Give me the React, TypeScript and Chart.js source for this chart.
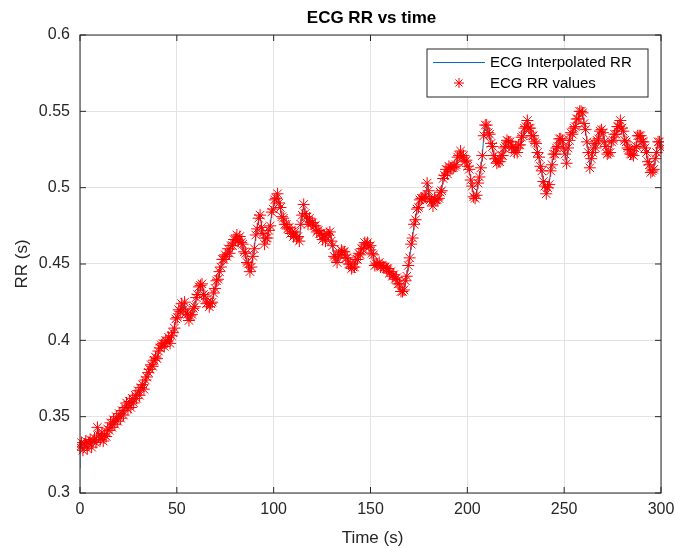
import React, { useEffect, useRef } from "react";
import { Chart, registerables } from "chart.js";

Chart.register(...registerables);

const TITLE = "ECG RR vs time";
const X_LABEL = "Time (s)";
const Y_LABEL = "RR (s)";
const LEGEND_LABELS = ["ECG Interpolated RR", "ECG RR values"];

const X_TICKS = [0, 50, 100, 150, 200, 250, 300];
const Y_TICKS = [0.3, 0.35, 0.4, 0.45, 0.5, 0.55, 0.6];

// interpolated curve starts a little below the first beat
const LINE_START_T = 0;
const LINE_START_V = 0.316;

// RR samples, one every TIME_STEP seconds from t = 0 to t = 300
const TIME_STEP = 0.75;
const RR_VALUES = [
  0.330, 0.333, 0.328, 0.332, 0.334, 0.329, 0.333, 0.335, 0.330, 0.334,
  0.336, 0.333, 0.343, 0.338, 0.335, 0.339, 0.334, 0.338, 0.337, 0.342,
  0.341, 0.346, 0.343, 0.348, 0.345, 0.350, 0.347, 0.352, 0.349, 0.354,
  0.351, 0.356, 0.359, 0.355, 0.360, 0.356, 0.362, 0.359, 0.364, 0.362,
  0.367, 0.364, 0.369, 0.371, 0.368, 0.374, 0.376, 0.379, 0.381, 0.384,
  0.383, 0.387, 0.389, 0.388, 0.393, 0.395, 0.397, 0.398, 0.396, 0.400,
  0.399, 0.402, 0.398, 0.403, 0.405, 0.408, 0.414, 0.415, 0.420, 0.419,
  0.424, 0.420, 0.425, 0.418, 0.417, 0.413, 0.416, 0.417, 0.421, 0.422,
  0.428, 0.430, 0.435, 0.436, 0.437, 0.430, 0.429, 0.424, 0.425, 0.422,
  0.424, 0.425, 0.431, 0.434, 0.439, 0.440, 0.445, 0.448, 0.453, 0.453,
  0.456, 0.455, 0.460, 0.457, 0.462, 0.462, 0.466, 0.466, 0.469, 0.465,
  0.468, 0.464, 0.463, 0.458, 0.457, 0.451, 0.450, 0.445, 0.448, 0.455,
  0.460, 0.469, 0.473, 0.480, 0.482, 0.474, 0.470, 0.463, 0.467, 0.467,
  0.472, 0.475, 0.484, 0.486, 0.492, 0.493, 0.496, 0.490, 0.487, 0.481,
  0.480, 0.476, 0.476, 0.473, 0.474, 0.470, 0.471, 0.468, 0.471, 0.467,
  0.468, 0.465, 0.476, 0.482, 0.489, 0.483, 0.481, 0.476, 0.480, 0.477,
  0.477, 0.475, 0.475, 0.471, 0.472, 0.470, 0.470, 0.466, 0.469, 0.465,
  0.470, 0.469, 0.471, 0.465, 0.462, 0.455, 0.454, 0.451, 0.456, 0.456,
  0.459, 0.458, 0.458, 0.454, 0.454, 0.450, 0.450, 0.447, 0.448, 0.448,
  0.453, 0.453, 0.457, 0.456, 0.460, 0.460, 0.464, 0.463, 0.464, 0.461,
  0.462, 0.457, 0.456, 0.449, 0.450, 0.450, 0.451, 0.448, 0.449, 0.448,
  0.448, 0.447, 0.447, 0.444, 0.445, 0.442, 0.443, 0.440, 0.441, 0.437,
  0.437, 0.432, 0.432, 0.433, 0.439, 0.442, 0.449, 0.454, 0.463, 0.467,
  0.476, 0.479, 0.486, 0.487, 0.492, 0.493, 0.493, 0.494, 0.494, 0.503,
  0.498, 0.492, 0.491, 0.488, 0.493, 0.492, 0.492, 0.493, 0.497, 0.498,
  0.506, 0.508, 0.512, 0.509, 0.514, 0.513, 0.513, 0.513, 0.514, 0.515,
  0.520, 0.521, 0.524, 0.520, 0.521, 0.517, 0.518, 0.514, 0.512, 0.505,
  0.501, 0.494, 0.493, 0.495, 0.503, 0.507, 0.513, 0.521, 0.534, 0.541,
  0.541, 0.536, 0.535, 0.529, 0.527, 0.521, 0.519, 0.516, 0.517, 0.517,
  0.521, 0.521, 0.526, 0.527, 0.531, 0.530, 0.530, 0.526, 0.527, 0.523,
  0.526, 0.523, 0.528, 0.528, 0.533, 0.534, 0.539, 0.540, 0.544, 0.539,
  0.539, 0.534, 0.534, 0.530, 0.529, 0.523, 0.520, 0.514, 0.511, 0.504,
  0.501, 0.496, 0.500, 0.502, 0.511, 0.515, 0.522, 0.522, 0.526, 0.527,
  0.532, 0.532, 0.531, 0.526, 0.522, 0.516, 0.526, 0.531, 0.536, 0.535,
  0.539, 0.540, 0.545, 0.545, 0.550, 0.550, 0.549, 0.542, 0.538, 0.530,
  0.523, 0.513, 0.519, 0.523, 0.529, 0.526, 0.531, 0.532, 0.537, 0.538,
  0.536, 0.530, 0.527, 0.522, 0.523, 0.523, 0.530, 0.531, 0.535, 0.535,
  0.540, 0.540, 0.544, 0.539, 0.537, 0.531, 0.530, 0.526, 0.525, 0.522,
  0.522, 0.521, 0.526, 0.527, 0.534, 0.534, 0.534, 0.530, 0.530, 0.526,
  0.523, 0.517, 0.515, 0.510, 0.511, 0.512, 0.519, 0.523, 0.530, 0.530,
  0.526,
];

const AXIS_COLOR = "#262626";
const GRID_COLOR = "#e3e3e3";
const LINE_COLOR = "#0072BD";
const MARKER_COLOR = "#ff0000";
const FONT = "'Liberation Sans', Arial, Helvetica, sans-serif";

function drawStar(ctx: CanvasRenderingContext2D, x: number, y: number, r: number) {
  const d = r * Math.SQRT1_2;
  ctx.beginPath();
  ctx.moveTo(x - r, y);
  ctx.lineTo(x + r, y);
  ctx.moveTo(x, y - r);
  ctx.lineTo(x, y + r);
  ctx.moveTo(x - d, y - d);
  ctx.lineTo(x + d, y + d);
  ctx.moveTo(x - d, y + d);
  ctx.lineTo(x + d, y - d);
  ctx.stroke();
}

const matlabAxesPlugin = {
  id: "matlabAxes",
  afterDatasetsDraw(chart: any) {
    const { ctx, chartArea, scales } = chart;
    const { left, right, top, bottom } = chartArea;
    ctx.save();
    ctx.strokeStyle = AXIS_COLOR;
    ctx.lineWidth = 1;
    ctx.strokeRect(left, top, right - left, bottom - top);
    const tl = 6;
    ctx.beginPath();
    X_TICKS.forEach((v) => {
      const px = scales.x.getPixelForValue(v);
      ctx.moveTo(px, bottom);
      ctx.lineTo(px, bottom - tl);
      ctx.moveTo(px, top);
      ctx.lineTo(px, top + tl);
    });
    Y_TICKS.forEach((v) => {
      const py = scales.y.getPixelForValue(v);
      ctx.moveTo(left, py);
      ctx.lineTo(left + tl, py);
      ctx.moveTo(right, py);
      ctx.lineTo(right - tl, py);
    });
    ctx.stroke();

    ctx.fillStyle = "#000000";
    ctx.font = `bold 17px ${FONT}`;
    ctx.textAlign = "center";
    ctx.textBaseline = "middle";
    ctx.fillText(TITLE, (left + right) / 2 + 1, 18);

    ctx.fillStyle = AXIS_COLOR;
    ctx.font = `17px ${FONT}`;
    ctx.fillText(X_LABEL, (left + right) / 2 + 2, 538);
    ctx.save();
    ctx.translate(22, (top + bottom) / 2);
    ctx.rotate(-Math.PI / 2);
    ctx.fillText(Y_LABEL, 0, 0);
    ctx.restore();

    const lx = 427, ly = 49, lw = 221, lh = 48;
    ctx.fillStyle = "#ffffff";
    ctx.fillRect(lx, ly, lw, lh);
    ctx.strokeStyle = AXIS_COLOR;
    ctx.lineWidth = 1;
    ctx.strokeRect(lx, ly, lw, lh);
    ctx.strokeStyle = LINE_COLOR;
    ctx.beginPath();
    ctx.moveTo(433, 62.5);
    ctx.lineTo(485, 62.5);
    ctx.stroke();
    ctx.strokeStyle = MARKER_COLOR;
    drawStar(ctx, 459, 83, 5);
    ctx.fillStyle = "#000000";
    ctx.font = `15px ${FONT}`;
    ctx.textAlign = "left";
    ctx.textBaseline = "middle";
    ctx.fillText(LEGEND_LABELS[0], 490, 63);
    ctx.fillText(LEGEND_LABELS[1], 490, 84);
    ctx.restore();
  },
};

export default function App() {
  const canvasRef = useRef<HTMLCanvasElement | null>(null);

  useEffect(() => {
    if (!canvasRef.current) return;
    const points = RR_VALUES.map((v, i) => ({ x: i * TIME_STEP, y: v }));
    const linePoints = [{ x: LINE_START_T, y: LINE_START_V }, ...points];
    const chart = new Chart(canvasRef.current, {
      type: "line",
      data: {
        datasets: [
          {
            label: LEGEND_LABELS[0],
            data: linePoints,
            borderColor: LINE_COLOR,
            borderWidth: 1,
            pointRadius: 0,
            fill: false,
            tension: 0,
            order: 2,
          },
          {
            label: LEGEND_LABELS[1],
            data: points,
            showLine: false,
            pointStyle: "star",
            pointRadius: 6,
            pointBorderWidth: 1,
            pointBorderColor: MARKER_COLOR,
            pointBackgroundColor: MARKER_COLOR,
            borderColor: MARKER_COLOR,
            order: 1,
            clip: 3,
          } as any,
        ],
      },
      options: {
        animation: false,
        responsive: false,
        maintainAspectRatio: false,
        devicePixelRatio: 1,
        events: [],
        layout: { padding: { top: 35, right: 14, left: 0, bottom: 0 } },
        plugins: {
          legend: { display: false },
          tooltip: { enabled: false },
          title: { display: false },
        },
        scales: {
          x: {
            type: "linear",
            min: 0,
            max: 300,
            afterBuildTicks: (scale: any) => {
              scale.ticks = X_TICKS.map((v) => ({ value: v }));
            },
            afterFit: (scale: any) => {
              scale.height = 55;
              scale.paddingLeft = 0;
              scale.paddingRight = 0;
            },
            border: { display: false },
            grid: { color: GRID_COLOR, lineWidth: 1, drawTicks: false },
            ticks: {
              color: AXIS_COLOR,
              font: { family: FONT, size: 16 },
              padding: 7,
              maxRotation: 0,
              autoSkip: false,
              callback: (v: any) => String(v),
            },
          },
          y: {
            type: "linear",
            min: 0.3,
            max: 0.6,
            afterBuildTicks: (scale: any) => {
              scale.ticks = Y_TICKS.map((v) => ({ value: v }));
            },
            afterFit: (scale: any) => {
              scale.width = 80;
              scale.paddingTop = 0;
              scale.paddingBottom = 0;
            },
            border: { display: false },
            grid: { color: GRID_COLOR, lineWidth: 1, drawTicks: false },
            ticks: {
              color: AXIS_COLOR,
              font: { family: FONT, size: 16 },
              padding: 10,
              autoSkip: false,
              callback: (v: any) => String(parseFloat(Number(v).toFixed(2))),
            },
          },
        },
      },
      plugins: [matlabAxesPlugin],
    } as any);
    return () => chart.destroy();
  }, []);

  return (
    <div style={{ position: "absolute", left: 0, top: 0, width: 675, height: 548, background: "#ffffff" }}>
      <canvas ref={canvasRef} width={675} height={548} style={{ width: 675, height: 548 }} />
    </div>
  );
}
